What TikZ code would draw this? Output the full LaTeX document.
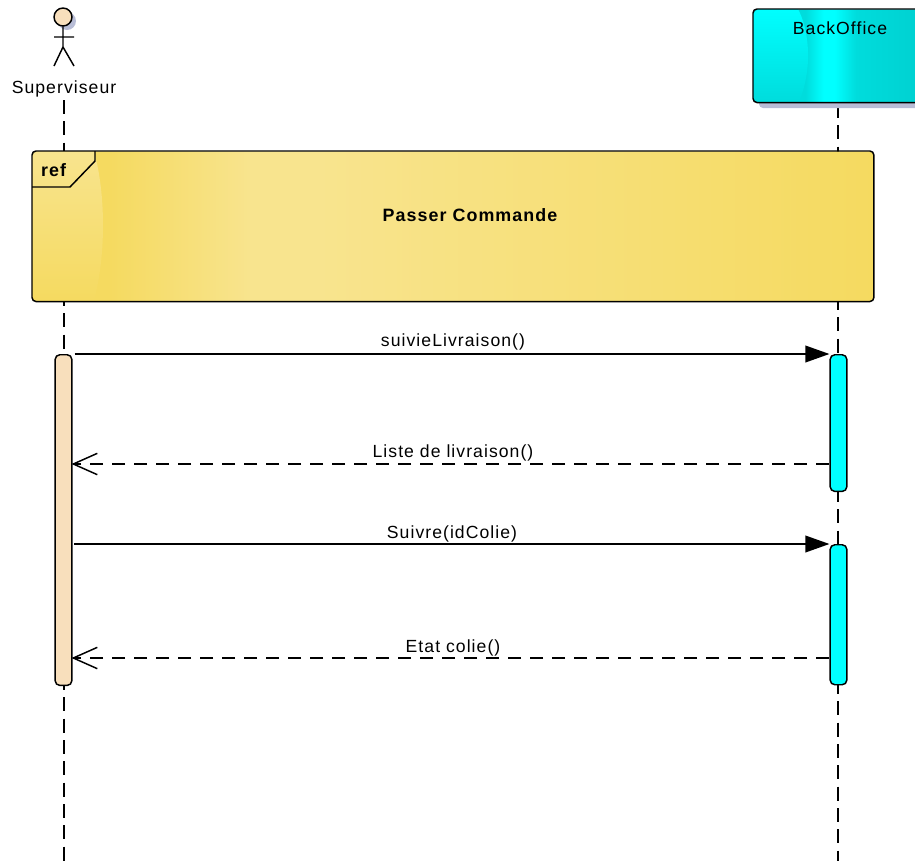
\documentclass[tikz,border=0pt]{standalone}
\usepackage{fontspec}
\setmainfont[LetterSpace=6.0]{Liberation Sans}
\usetikzlibrary{arrows.meta,calc}
\definecolor{FrameEdge}{HTML}{F5DA60}
\definecolor{FrameMid}{HTML}{F8E48E}
\definecolor{CyanEdge}{HTML}{00DCDC}
\definecolor{CyanMid}{HTML}{00FFFF}
\definecolor{CyanDark}{HTML}{00CFCF}
\definecolor{Skin}{HTML}{F8DFBC}
\definecolor{ShadowBlue}{HTML}{B8BDD6}
\pgfdeclarehorizontalshading{refshade}{100bp}{
 color(0bp)=(FrameEdge); color(29.6bp)=(FrameEdge); color(38bp)=(FrameMid); color(42bp)=(FrameMid); color(75bp)=(FrameEdge); color(100bp)=(FrameEdge)}
\pgfdeclarehorizontalshading{cyanshade}{100bp}{
 color(0bp)=(CyanEdge); color(39.7bp)=(CyanEdge); color(44.8bp)=(CyanMid); color(48bp)=(CyanMid); color(54bp)=(CyanEdge); color(75bp)=(CyanDark); color(100bp)=(CyanDark)}
\tikzset{
 lbl/.style={font=\fontsize{13.2pt}{15pt}\selectfont, inner sep=0pt},
 boldlbl/.style={font=\fontsize{13.4pt}{15pt}\bfseries\selectfont, inner sep=0pt},
 lifeline/.style={line width=1.3pt, dash pattern=on 10.5pt off 5.5pt},
 actv/.style={draw=black, line width=1.1pt, rounded corners=3.5pt, minimum width=12.5pt, inner sep=0pt, anchor=north},
 syncmsg/.style={line width=1.1pt, -{Triangle[length=18pt,width=12.5pt,black]}},
 retmsg/.style={line width=1.1pt, dash pattern=on 9.5pt off 7pt, -{Straight Barb[length=18pt,width=16pt,line width=1.1pt]}},
 outline/.style={draw=black, line width=1.1pt, rounded corners=3pt},
}
\begin{document}
\begin{tikzpicture}[x=0.75pt,y=-0.75pt]
\useasboundingbox (0,0) rectangle (915,861);
% named places
\coordinate (llA) at (64,100);
\coordinate (llAend) at (64,861);
\coordinate (llB) at (838,104);
\coordinate (llBend) at (838,861);
% lifelines
\draw[lifeline] (llA) -- (llAend);
\draw[lifeline] (llB) -- (llBend);
% actor
\fill[ShadowBlue] (67,21) circle[radius=9];
\node[circle, draw=black, fill=Skin, line width=1.1pt, minimum size=13.5pt, inner sep=0pt] (head) at (63,17) {};
\coordinate (hip) at (63,47);
\coordinate (armL) at (54,37);
\coordinate (armR) at (74,37);
\coordinate (footL) at (54,66);
\coordinate (footR) at (74,66);
\draw[line width=1.1pt] (head.south) -- (hip) (armL) -- (armR) (footL) -- (hip) -- (footR);
\node[lbl] (actor) at (64,89) {Superviseur};
% BackOffice
\fill[ShadowBlue, rounded corners=3pt] (759,14) rectangle (930,108);
\node[shade, shading=cyanshade, rounded corners=3pt, minimum width=132.75pt, minimum height=69.75pt, inner sep=0pt, anchor=north west] (bo) at (753,9) {};
\begin{scope}
 \clip[rounded corners=3pt] (753,9) rectangle (930,102);
 \shade[top color=CyanMid, bottom color=CyanEdge] (753,9) -- (798,9) .. controls (808,28) and (814,65) .. (799,102) -- (753,102) -- cycle;
\end{scope}
\draw[outline] (bo.north west) rectangle (bo.south east);
\node[lbl] (bolabel) at (840,28) {BackOffice};
% Ref frame
\node[shade, shading=refshade, minimum width=631pt, minimum height=112.5pt, inner sep=0pt, anchor=north west, rounded corners=3pt] (frame) at (32,151) {};
\begin{scope}
 \clip[rounded corners=3pt] (32,151) rectangle (873,301);
 \shade[top color=FrameMid, bottom color=FrameEdge] (32,151) -- (94,151) .. controls (106,195) and (106,255) .. (94,301) -- (32,301) -- cycle;
\end{scope}
\draw[outline] (frame.north west) rectangle (frame.south east);
\coordinate (tabA) at (95,151);
\coordinate (tabB) at (95,161);
\coordinate (tabC) at (70,187);
\coordinate (tabD) at (32,187);
\draw[line width=1.1pt] (tabA) -- (tabB) -- (tabC) -- (tabD);
\node[boldlbl] (reflabel) at (53.5,170) {ref};
\node[boldlbl] (title) at (470,215) {Passer Commande};
% activations
\node[actv, fill=Skin, minimum height=248pt] (aA) at (63.5,354) {};
\node[actv, fill=CyanMid, minimum height=102.5pt] (aB1) at (838.5,354) {};
\node[actv, fill=CyanMid, minimum height=105pt] (aB2) at (838.5,544) {};
% messages
\coordinate (m1s) at ($(aA.north east)+(2,0)$);
\coordinate (m3s) at (74,544);
\coordinate (m2e) at (71.5,464);
\coordinate (m2s) at (829,464);
\coordinate (m4e) at (71.5,658);
\coordinate (m4s) at (829,658);
\draw[syncmsg] (m1s) -- (aB1.north west);
\draw[retmsg] (m2s) -- (m2e);
\draw[syncmsg] (m3s) -- (aB2.north west);
\draw[retmsg] (m4s) -- (m4e);
\node[lbl] (t1) at (453,342) {suivieLivraison()};
\node[lbl] (t2) at (453,453) {Liste de livraison()};
\node[lbl] (t3) at (452,534) {Suivre(idColie)};
\node[lbl] (t4) at (453,648) {Etat colie()};
\end{tikzpicture}
\end{document}
